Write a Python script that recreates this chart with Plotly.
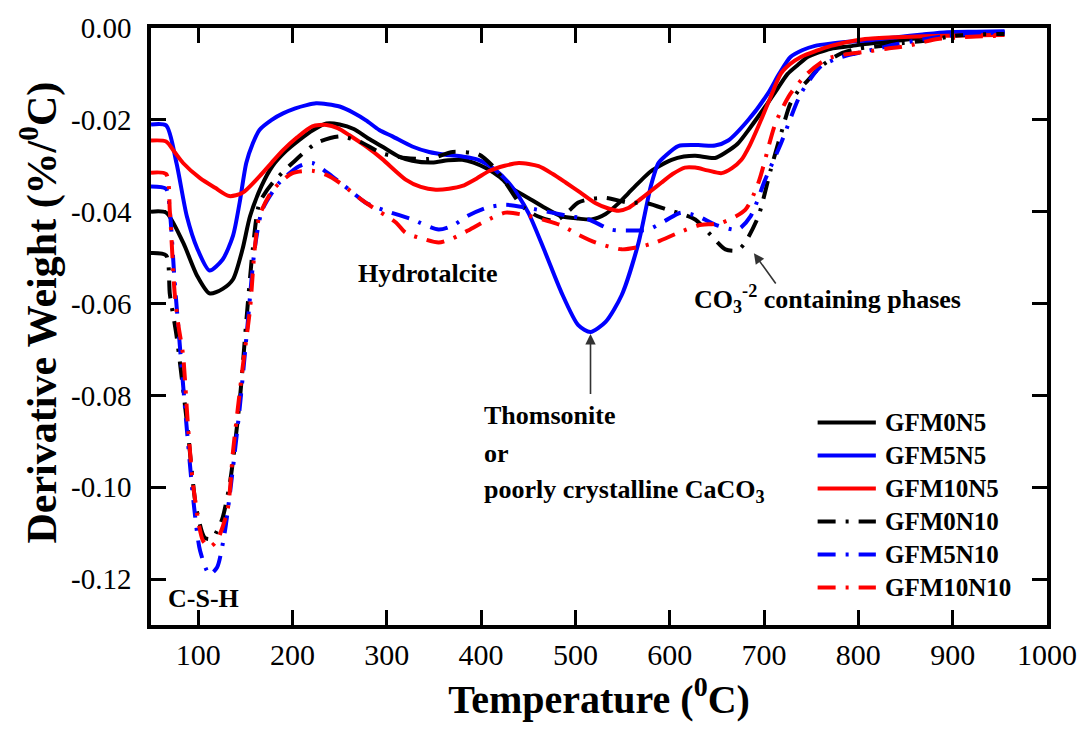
import plotly.graph_objects as go

# ---- DTG curves: temperature (°C) vs derivative weight (%/°C) ----
t_gfm0n5 = [50, 66, 84, 99, 112, 126, 137, 147, 155, 167, 179, 193, 207, 222, 236, 250, 265, 280,
            295, 313, 327, 348, 365, 380, 392, 405, 420, 432, 450, 468, 485, 503, 517, 532, 545,
            556, 568, 580, 592, 602, 615, 627, 648, 660, 672, 686, 701, 714, 725, 736, 746, 758,
            771, 790, 807, 825, 841, 860, 876, 902, 930, 955]
d_gfm0n5 = [-0.0400, -0.0402, -0.0467, -0.0540, -0.0578, -0.0568, -0.0547, -0.0482, -0.0410,
            -0.0345, -0.0300, -0.0268, -0.0244, -0.0222, -0.0208, -0.0210, -0.0220, -0.0240,
            -0.0258, -0.0280, -0.0289, -0.0293, -0.0288, -0.0287, -0.0293, -0.0305, -0.0325,
            -0.0348, -0.0370, -0.0392, -0.0410, -0.0415, -0.0417, -0.0405, -0.0383, -0.0360,
            -0.0335, -0.0312, -0.0297, -0.0287, -0.0280, -0.0278, -0.0283, -0.0270, -0.0252,
            -0.0215, -0.0172, -0.0133, -0.0100, -0.0080, -0.0063, -0.0053, -0.0045, -0.0040,
            -0.0035, -0.0031, -0.0028, -0.0023, -0.0019, -0.0013, -0.0010, -0.0009]

t_gfm5n5 = [50, 66, 77, 88, 99, 112, 126, 137, 144, 151, 158, 165, 178, 190, 203, 215, 225, 237,
            250, 265, 278, 292, 306, 327, 345, 362, 380, 397, 415, 432, 450, 468, 485, 503, 516,
            532, 549, 567, 580, 588, 595, 609, 630, 648, 662, 683, 704, 716, 728, 741, 754, 770,
            789, 815, 841, 868, 894, 925, 955]
d_gfm5n5 = [-0.0210, -0.0212, -0.0294, -0.0410, -0.0480, -0.0528, -0.0504, -0.0452, -0.0380,
            -0.0294, -0.0251, -0.0222, -0.0200, -0.0186, -0.0175, -0.0168, -0.0164, -0.0166,
            -0.0171, -0.0185, -0.0201, -0.0222, -0.0236, -0.0258, -0.0270, -0.0276, -0.0280,
            -0.0287, -0.0309, -0.0344, -0.0402, -0.0489, -0.0575, -0.0647, -0.0662, -0.0640,
            -0.0582, -0.0467, -0.0344, -0.0294, -0.0279, -0.0257, -0.0255, -0.0256, -0.0245,
            -0.0201, -0.0143, -0.0100, -0.0063, -0.0048, -0.0039, -0.0034, -0.0030, -0.0026,
            -0.0020, -0.0014, -0.0009, -0.0008, -0.0007]

t_gfm10n5 = [50, 66, 75, 84, 102, 118, 133, 147, 165, 178, 190, 205, 221, 236, 248, 260, 278, 295,
             320, 336, 352, 366, 380, 395, 408, 425, 440, 461, 476, 490, 505, 521, 535, 546, 556,
             567, 580, 591, 603, 616, 627, 640, 655, 666, 676, 685, 694, 706, 718, 728, 739, 755,
             771, 790, 807, 841, 870, 894, 925, 955]
d_gfm10n5 = [-0.0245, -0.0247, -0.0270, -0.0294, -0.0327, -0.0348, -0.0366, -0.0359, -0.0323,
             -0.0293, -0.0266, -0.0238, -0.0214, -0.0211, -0.0218, -0.0233, -0.0258, -0.0285,
             -0.0330, -0.0346, -0.0352, -0.0350, -0.0344, -0.0328, -0.0312, -0.0300, -0.0294,
             -0.0301, -0.0318, -0.0337, -0.0358, -0.0381, -0.0393, -0.0398, -0.0392, -0.0376,
             -0.0355, -0.0337, -0.0318, -0.0304, -0.0304, -0.0310, -0.0316, -0.0305, -0.0287,
             -0.0255, -0.0214, -0.0155, -0.0099, -0.0078, -0.0063, -0.0050, -0.0039, -0.0030,
             -0.0024, -0.0020, -0.0018, -0.0017, -0.0016, -0.0015]

t_gfm0n10 = [50, 66, 70, 77, 88, 98, 107, 115, 120, 126, 134, 144, 151, 158, 165, 179, 200, 225,
             250, 271, 295, 320, 345, 370, 397, 412, 426, 443, 460, 479, 492, 503, 517, 532, 556,
             577, 598, 613, 627, 644, 659, 672, 680, 694, 707, 718, 728, 737, 746, 760, 781, 800,
             824, 846, 870, 902, 930, 955]
d_gfm0n10 = [-0.0490, -0.0495, -0.0580, -0.0669, -0.0857, -0.1045, -0.1110, -0.1112, -0.1095,
             -0.1066, -0.0986, -0.0813, -0.0640, -0.0480, -0.0381, -0.0337, -0.0294, -0.0251,
             -0.0236, -0.0247, -0.0273, -0.0283, -0.0285, -0.0270, -0.0275, -0.0300, -0.0337,
             -0.0387, -0.0410, -0.0420, -0.0400, -0.0380, -0.0372, -0.0370, -0.0380, -0.0382,
             -0.0396, -0.0405, -0.0417, -0.0452, -0.0482, -0.0484, -0.0467, -0.0410, -0.0309,
             -0.0230, -0.0164, -0.0135, -0.0115, -0.0084, -0.0056, -0.0045, -0.0039, -0.0033,
             -0.0028, -0.0017, -0.0014, -0.0013]

t_gfm5n10 = [50, 66, 70, 75, 80, 87, 95, 102, 112, 120, 128, 134, 144, 152, 160, 168, 186, 207,
             221, 242, 260, 278, 299, 327, 355, 370, 386, 405, 426, 450, 475, 495, 514, 538, 559,
             577, 595, 612, 630, 648, 672, 686, 701, 718, 739, 760, 778, 796, 820, 841, 868, 894,
             925, 955]
d_gfm5n10 = [-0.0345, -0.0350, -0.0400, -0.0550, -0.0677, -0.0850, -0.1030, -0.1138, -0.1190,
             -0.1175, -0.1100, -0.1008, -0.0828, -0.0655, -0.0480, -0.0396, -0.0337, -0.0301,
             -0.0294, -0.0323, -0.0352, -0.0381, -0.0398, -0.0417, -0.0439, -0.0430, -0.0409,
             -0.0392, -0.0385, -0.0392, -0.0402, -0.0410, -0.0417, -0.0439, -0.0441, -0.0439,
             -0.0420, -0.0402, -0.0410, -0.0428, -0.0439, -0.0409, -0.0331, -0.0251, -0.0143,
             -0.0084, -0.0066, -0.0056, -0.0045, -0.0035, -0.0025, -0.0017, -0.0012, -0.0010]

t_gfm10n10 = [50, 66, 70, 75, 79, 84, 89, 95, 105, 112, 120, 131, 137, 147, 155, 160, 165, 179,
              200, 221, 236, 250, 278, 310, 320, 340, 355, 370, 386, 405, 426, 450, 470, 485, 503,
              521, 549, 567, 585, 609, 630, 655, 680, 694, 712, 728, 746, 767, 785, 807, 830, 852,
              870, 884, 920, 955]
d_gfm10n10 = [-0.0315, -0.0318, -0.0400, -0.0575, -0.0647, -0.0712, -0.0860, -0.1001, -0.1116,
              -0.1130, -0.1116, -0.1051, -0.0921, -0.0742, -0.0612, -0.0480, -0.0409, -0.0353,
              -0.0316, -0.0311, -0.0320, -0.0337, -0.0381, -0.0424, -0.0446, -0.0460, -0.0467,
              -0.0458, -0.0441, -0.0420, -0.0402, -0.0409, -0.0420, -0.0430, -0.0450, -0.0467,
              -0.0482, -0.0477, -0.0467, -0.0446, -0.0430, -0.0424, -0.0396, -0.0337, -0.0208,
              -0.0143, -0.0099, -0.0067, -0.0058, -0.0052, -0.0045, -0.0039, -0.0030, -0.0024,
              -0.0019, -0.0017]

series_names = ["GFM0N5", "GFM5N5", "GFM10N5", "GFM0N10", "GFM5N10", "GFM10N10"]
series_t = [t_gfm0n5, t_gfm5n5, t_gfm10n5, t_gfm0n10, t_gfm5n10, t_gfm10n10]
series_d = [d_gfm0n5, d_gfm5n5, d_gfm10n5, d_gfm0n10, d_gfm5n10, d_gfm10n10]

x_tick_vals = [100, 200, 300, 400, 500, 600, 700, 800, 900, 1000]
x_tick_text = ["100", "200", "300", "400", "500", "600", "700", "800", "900", "1000"]
y_tick_vals = [0.0, -0.02, -0.04, -0.06, -0.08, -0.10, -0.12]
y_tick_text = ["0.00", "-0.02", "-0.04", "-0.06", "-0.08", "-0.10", "-0.12"]

# ---- styling ----
colors = ["#000000", "#0000ff", "#ff0000", "#000000", "#0000ff", "#ff0000"]
DASHDOT = "18px,10px,3px,10px"
dashes = ["solid", "solid", "solid", DASHDOT, DASHDOT, DASHDOT]
SERIF = "Liberation Serif, Times New Roman, serif"

fig = go.Figure()
for name, t, d, c, ds in zip(series_names, series_t, series_d, colors, dashes):
    fig.add_trace(go.Scatter(
        x=t, y=d, name=name, mode="lines",
        line=dict(color=c, width=4, dash=ds, shape="spline", smoothing=0.7),
        showlegend=False,
    ))

# hand-built legend (long sample lines) in paper coordinates
leg_x0, leg_x1, leg_text_x = 0.744, 0.809, 0.817
leg_top, leg_step = 0.339, 0.0552
for i, (name, c, ds) in enumerate(zip(series_names, colors, dashes)):
    yy = leg_top - i * leg_step
    fig.add_shape(type="line", xref="paper", yref="paper",
                  x0=leg_x0, x1=leg_x1, y0=yy, y1=yy,
                  line=dict(color=c, width=4, dash=ds))
    fig.add_annotation(xref="paper", yref="paper", x=leg_text_x, y=yy,
                       xanchor="left", yanchor="middle", showarrow=False,
                       text=f"<b>{name}</b>",
                       font=dict(family=SERIF, size=25, color="black"))

label_font = dict(family=SERIF, size=26, color="black")

# peak labels
fig.add_annotation(x=106, y=-0.1243, text="<b>C-S-H</b>", showarrow=False, font=label_font)
fig.add_annotation(x=344, y=-0.0535, text="<b>Hydrotalcite</b>", showarrow=False, font=label_font)
thomsonite_lines = ["<b>Thomsonite</b>", "<b>or</b>", "<b>poorly crystalline CaCO<sub>3</sub></b>"]
thomsonite_y = [-0.0844, -0.0926, -0.1008]
for txt, yv in zip(thomsonite_lines, thomsonite_y):
    fig.add_annotation(x=400.5, y=yv, xanchor="left", yanchor="middle",
                       showarrow=False, font=label_font, text=txt)
fig.add_annotation(x=624, y=-0.0590, xanchor="left", yanchor="middle", showarrow=False,
                   font=label_font,
                   text="<b>CO<sub>3</sub><sup>-2</sup> containing phases</b>")

# arrows pointing at the peaks
fig.add_annotation(x=516, y=-0.0662, ax=0, ay=72, text=" ", showarrow=True,
                   arrowhead=2, arrowsize=1.3, arrowwidth=1.6, arrowcolor="#333333",
                   standoff=2)
fig.add_annotation(x=688, y=-0.0487, ax=26, ay=36, text=" ", showarrow=True,
                   arrowhead=2, arrowsize=1.3, arrowwidth=1.6, arrowcolor="#333333",
                   standoff=2)

# y-axis title, placed slightly above the axis centre
fig.add_annotation(xref="paper", yref="paper", x=-0.1246, y=0.524,
                   xanchor="center", yanchor="middle", textangle=-90, showarrow=False,
                   text="<b>Derivative Weight (%/<sup>0</sup>C)</b>",
                   font=dict(family=SERIF, size=42, color="black"))

axis_common = dict(
    showline=True, linewidth=3.5, linecolor="black", mirror="ticks",
    ticks="inside", ticklen=15, tickwidth=3, tickcolor="black",
    showgrid=False, zeroline=False,
)

fig.update_xaxes(
    range=[50, 1000], tickvals=x_tick_vals, ticktext=x_tick_text,
    tickfont=dict(family=SERIF, size=30, color="black"),
    title=dict(text="<b>Temperature (<sup>0</sup>C)</b>",
               font=dict(family=SERIF, size=40, color="black"), standoff=16),
    **axis_common,
)
fig.update_yaxes(
    range=[-0.13, 0.0], tickvals=y_tick_vals, ticktext=y_tick_text,
    tickfont=dict(family=SERIF, size=29, color="black"),
    ticklabelstandoff=10,
    **axis_common,
)

fig.update_layout(
    width=1089, height=740,
    margin=dict(l=151, r=39, t=24, b=115),
    paper_bgcolor="white", plot_bgcolor="white",
    showlegend=False,
)

fig.write_html("out.html")
